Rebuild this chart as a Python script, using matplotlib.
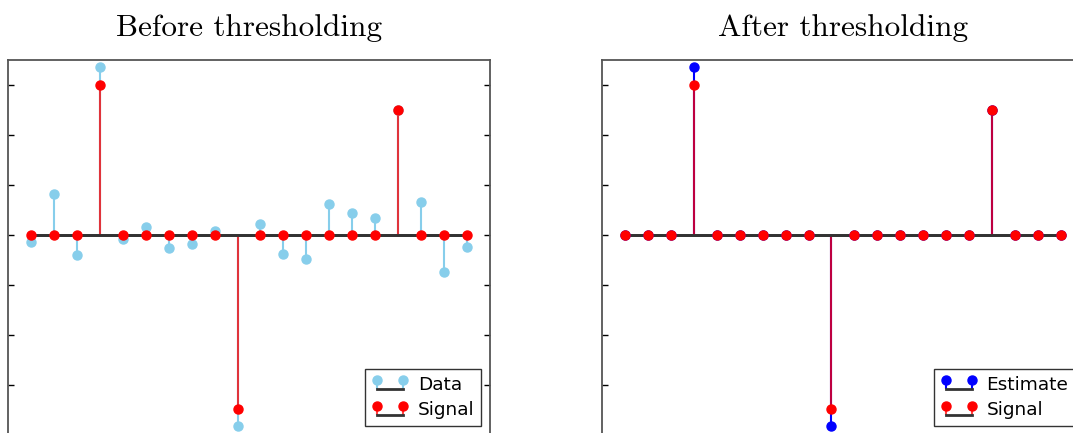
import numpy as np
import matplotlib
matplotlib.use("Agg")
import matplotlib.pyplot as plt
from matplotlib.legend_handler import HandlerStem
from matplotlib.container import StemContainer

# === data ===
idx = np.arange(20)
data_vals = [-0.14, 0.82, -0.39, 3.36, -0.07, 0.17, -0.25, -0.18, 0.08, -3.82,
             0.23, -0.38, -0.47, 0.62, 0.45, 0.35, 2.5, 0.67, -0.73, -0.23]
signal_vals = [0, 0, 0, 3.0, 0, 0, 0, 0, 0, -3.48,
               0, 0, 0, 0, 0, 0, 2.5, 0, 0, 0]
estimate_vals = [0, 0, 0, 3.36, 0, 0, 0, 0, 0, -3.82,
                 0, 0, 0, 0, 0, 0, 2.5, 0, 0, 0]
titles = ["Before thresholding", "After thresholding"]

fig = plt.figure(figsize=(10.73, 4.33), dpi=100)
ax1 = fig.add_axes([0.00746, -0.0046, 0.4492, 0.866])
ax2 = fig.add_axes([0.561, -0.0046, 0.4492, 0.866])


def stem(ax, y, color, label, line_alpha=1.0):
    markers, stems, base = ax.stem(idx, y, label=label)
    plt.setp(markers, color=color, markersize=6.5, zorder=3)
    plt.setp(stems, color=color, linewidth=1.5, alpha=line_alpha)
    plt.setp(base, color="#333333", linewidth=2)
    return markers, stems, base


stem(ax1, data_vals, "skyblue", "Data")
stem(ax1, signal_vals, "red", "Signal", line_alpha=0.75)

stem(ax2, estimate_vals, "blue", "Estimate")
stem(ax2, signal_vals, "red", "Signal", line_alpha=0.75)

for ax, title in zip([ax1, ax2], titles):
    ax.set_xlim(-1, 20)
    ax.set_ylim(-4, 3.5)
    ax.set_xticks([])
    ax.set_yticks(np.arange(-3, 4))
    ax.set_yticklabels([])
    ax.tick_params(axis="y", direction="in", left=True, right=True, length=4, width=1)
    for s in ax.spines.values():
        s.set_color("#555555")
        s.set_linewidth(1.3)
    ax.set_title(title, fontsize=22.5, fontfamily="cmr10", pad=17)
    leg = ax.legend(loc="lower right", fontsize=13.3, fancybox=False, numpoints=2,
                    handlelength=2.0, handletextpad=0.5, borderpad=0.35,
                    handler_map={StemContainer: HandlerStem(yoffsets=[0.75, 0.75], bottom=0.5)},
                    edgecolor="#333333", framealpha=1, borderaxespad=0.5, labelspacing=0.4)
    leg.get_frame().set_linewidth(1)

fig.savefig("out.png", dpi=100)
